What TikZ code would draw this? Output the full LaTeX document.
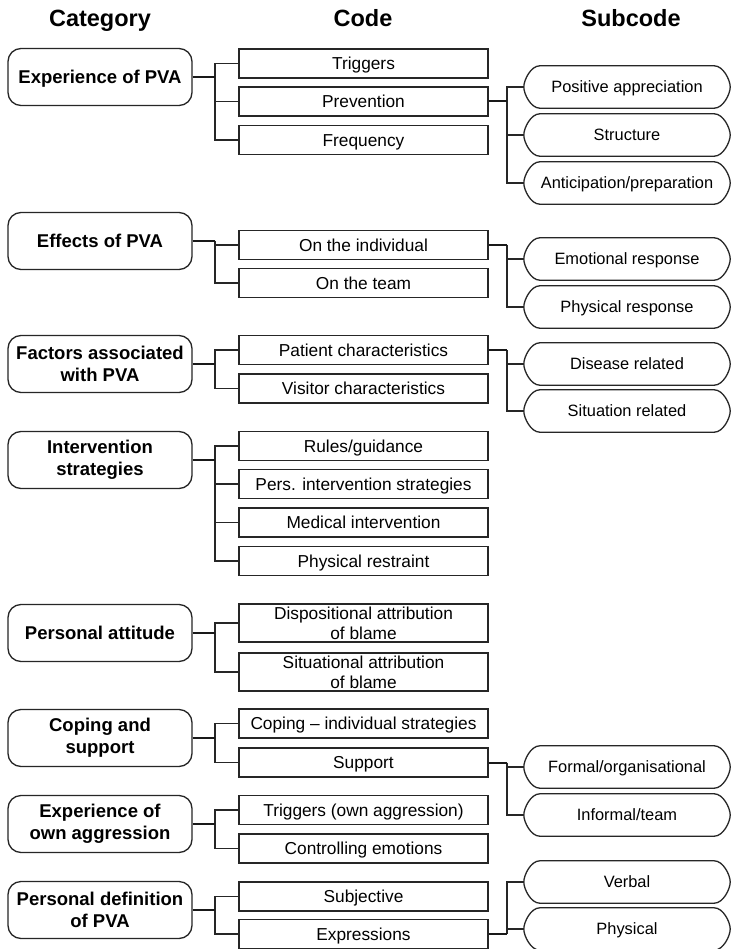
\documentclass[tikz,border=0pt]{standalone}
\usepackage{fontspec}
\setmainfont{Liberation Sans}

% subcode: text node plus an outline with curved, slightly pointed ends
\newcommand\subnode[3]{%
  \node[subtext] (#1) at (627,#2) {#3};
  \draw[boxline] ([xshift=16pt]#1.north west) -- ([xshift=-16pt]#1.north east)
    .. controls ([xshift=-7pt]#1.north east) and ([yshift=7pt]#1.east) .. (#1.east)
    .. controls ([yshift=-7pt]#1.east) and ([xshift=-7pt]#1.south east) .. ([xshift=-16pt]#1.south east)
    -- ([xshift=16pt]#1.south west)
    .. controls ([xshift=7pt]#1.south west) and ([yshift=-7pt]#1.west) .. (#1.west)
    .. controls ([yshift=7pt]#1.west) and ([xshift=7pt]#1.north west) .. ([xshift=16pt]#1.north west)
    -- cycle;
}

\begin{document}
\begin{tikzpicture}[x=1pt,y=1pt,
  boxline/.style={draw=black!85, line width=1.3pt},
  catbox/.style={boxline, rounded corners=13pt, minimum width=184pt, minimum height=57pt,
    inner sep=0pt, align=center, font=\fontsize{18.5}{22}\selectfont\bfseries},
  catone/.style={catbox, text height=17.3pt, text depth=4pt},
  codebox/.style={boxline, minimum width=249pt, minimum height=29pt, inner sep=0pt,
    align=center, font=\fontsize{17.3}{20}\selectfont},
  codeone/.style={codebox, text height=16pt, text depth=3.6pt},
  codetwo/.style={codebox, minimum height=38pt},
  subtext/.style={minimum width=206pt, minimum height=42pt, inner sep=0pt,
    font=\fontsize{16.4}{19}\selectfont, text height=15.1pt, text depth=3.4pt},
  conn/.style={draw=black!85, line width=1.2pt},
  stub/.style={draw=black!90, line width=2pt},
  head/.style={font=\fontsize{23.5}{28}\selectfont\bfseries, anchor=base}]

\useasboundingbox[fill=white] (0,0) rectangle (731,-949);

% branch columns
\coordinate (bx) at (215,0);
\coordinate (sx) at (507,0);

% column headings
\node[head] (h1) at (100,-27) {Category};
\node[head] (h2) at (363,-27) {Code};
\node[head] (h3) at (631,-27) {Subcode};

% categories
\node[catone] (c1) at (100,-77)  {Experience of PVA};
\node[catone] (c2) at (100,-241) {Effects of PVA};
\node[catbox] (c3) at (100,-364) {Factors associated\\with PVA};
\node[catbox] (c4) at (100,-460) {Intervention\\strategies};
\node[catone] (c5) at (100,-633) {Personal attitude};
\node[catbox] (c6) at (100,-738) {Coping and\\support};
\node[catbox] (c7) at (100,-824) {Experience of\\own aggression};
\node[catbox] (c8) at (100,-910) {Personal definition\\of PVA};

% codes
\node[codeone] (k11) at (363.5,-63.5) {Triggers};
\node[codeone] (k12) at (363.5,-101.5) {Prevention};
\node[codeone] (k13) at (363.5,-140) {Frequency};
\node[codeone] (k21) at (363.5,-245) {On the individual};
\node[codeone] (k22) at (363.5,-283) {On the team};
\node[codeone] (k31) at (363.5,-350) {Patient characteristics};
\node[codeone] (k32) at (363.5,-388.5) {Visitor characteristics};
\node[codeone] (k41) at (363.5,-446) {Rules/guidance};
\node[codeone] (k42) at (363.5,-484) {Pers. intervention strategies};
\node[codeone] (k43) at (363.5,-522.5) {Medical intervention};
\node[codeone] (k44) at (363.5,-561) {Physical restraint};
\node[codetwo] (k51) at (363.5,-623) {Dispositional attribution\\of blame};
\node[codetwo] (k52) at (363.5,-672) {Situational attribution\\of blame};
\node[codeone] (k61) at (363.5,-723.5) {Coping -- individual strategies};
\node[codeone] (k62) at (363.5,-762.5) {Support};
\node[codeone] (k71) at (363.5,-810) {Triggers (own aggression)};
\node[codeone] (k72) at (363.5,-848.5) {Controlling emotions};
\node[codeone] (k81) at (363.5,-896.5) {Subjective};
\node[codeone] (k82) at (363.5,-934) {Expressions};

% subcodes
\subnode{s11}{-87}{Positive appreciation}
\subnode{s12}{-135}{Structure}
\subnode{s13}{-183}{Anticipation/preparation}
\subnode{s21}{-259}{Emotional response}
\subnode{s22}{-307}{Physical response}
\subnode{s31}{-364}{Disease related}
\subnode{s32}{-411}{Situation related}
\subnode{s61}{-767}{Formal/organisational}
\subnode{s62}{-815}{Informal/team}
\subnode{s81}{-882}{Verbal}
\subnode{s82}{-929}{Physical}

% category -> code connectors
\foreach \c/\ks in {c1/{k11,k12,k13}, c2/{k21,k22}, c3/{k31,k32},
                    c4/{k41,k42,k43,k44}, c5/{k51,k52}, c6/{k61,k62},
                    c7/{k71,k72}, c8/{k81,k82}}{
  \foreach \k in \ks {\draw[conn] (\c.east -| bx) |- (\k.west);}
  \draw[stub] (\c.east) -- (\c.east -| bx);
}

% code -> subcode connectors
\foreach \k/\ss in {k12/{s11,s12,s13}, k21/{s21,s22}, k31/{s31,s32},
                    k62/{s61,s62}, k82/{s81,s82}}{
  \foreach \s in \ss {\draw[conn] (\k.east -| sx) |- (\s.west);}
  \draw[stub] (\k.east) -- (\k.east -| sx);
}
\end{tikzpicture}
\end{document}
